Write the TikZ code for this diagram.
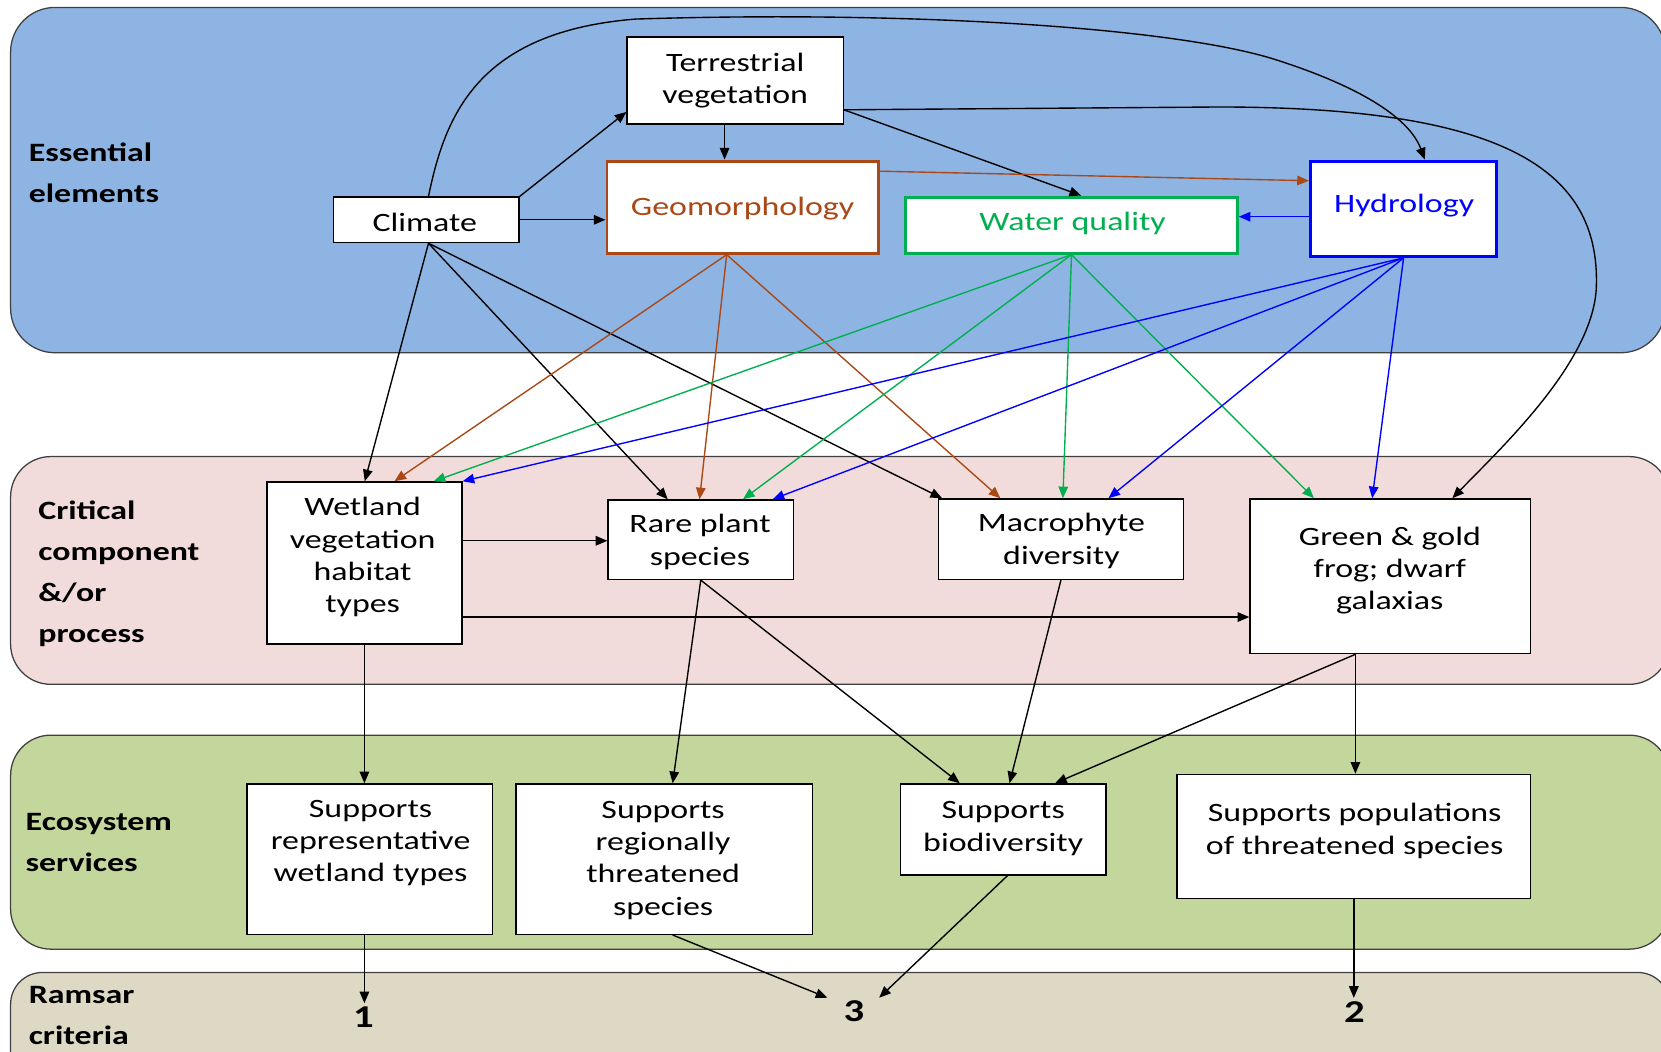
\documentclass[tikz,border=0pt]{standalone}
\usepackage{fontspec}
\setmainfont{Carlito}[FakeStretch=1.28]
\usetikzlibrary{arrows.meta}
\definecolor{bandblue}{RGB}{141,180,226}
\definecolor{bandpink}{RGB}{242,220,219}
\definecolor{bandgreen}{RGB}{195,214,155}
\definecolor{bandtan}{RGB}{221,217,196}
\definecolor{edgegray}{RGB}{64,64,64}
\definecolor{geobrown}{RGB}{170,72,22}
\definecolor{wqgreen}{RGB}{0,176,80}
\definecolor{hydblue}{RGB}{0,0,255}
\tikzset{
  band/.style={draw=edgegray, line width=1.2pt, rounded corners=42pt},
  box/.style={draw=black, fill=white, line width=1.3pt, inner sep=0pt},
  cbox/.style={fill=white, line width=2.8pt, inner sep=0pt},
  txt/.style={inner sep=0pt, align=center, font=\fontsize{25}{30.5}\selectfont},
  lab/.style={inner sep=0pt, align=left, anchor=west, font=\bfseries\fontsize{25}{38.7}\selectfont},
  num/.style={inner sep=3pt, font=\bfseries\fontsize{30}{30}\selectfont},
  arr/.style={line width=1.3pt, -{Triangle[length=11pt,width=9pt]}},
}
\begin{document}
\begin{tikzpicture}[x=1pt,y=-1pt]
\useasboundingbox (0,0) rectangle (1568,993);
\begin{scope}
  \clip (0,0) rectangle (1568,993);
  \fill[white] (0,0) rectangle (1568,993);
  \draw[band, fill=bandblue] (10,7) rectangle (1572,333);
  \draw[band, fill=bandpink, rounded corners=38pt] (10,431) rectangle (1576,646);
  \draw[band, fill=bandgreen, rounded corners=38pt] (10,694) rectangle (1576,896);
  \draw[band, fill=bandtan, rounded corners=30pt] (10,918) rectangle (1576,1060);
\end{scope}

% band labels
\node[lab] (l1) at (27,163) {Essential\\elements};
\node[lab] (l2) at (36,541.5) {Critical\\component\\\&/or\\process};
\node[lab] (l3) at (24,795) {Ecosystem\\services};
\node[lab] (l4) at (27,959) {Ramsar\\criteria};

% boxes
\node[box, minimum width=204pt, minimum height=82pt] (terr) at (694,76) {};
\node[box, minimum width=175pt, minimum height=43pt] (climate) at (402.5,207.5) {};
\node[cbox, draw=geobrown, minimum width=256pt, minimum height=87pt] (geo) at (701,195.5) {};
\node[cbox, draw=wqgreen, minimum width=313pt, minimum height=53pt] (wq) at (1011.5,212.5) {};
\node[cbox, draw=hydblue, minimum width=176pt, minimum height=90pt] (hyd) at (1325,197) {};
\node[box, minimum width=184pt, minimum height=153pt] (wet) at (344,531.5) {};
\node[box, minimum width=175pt, minimum height=75pt] (rare) at (661.5,509.5) {};
\node[box, minimum width=231pt, minimum height=76pt] (macro) at (1001.5,509) {};
\node[box, minimum width=265pt, minimum height=146pt] (frog) at (1312.5,544) {};
\node[box, minimum width=232pt, minimum height=142pt] (rep) at (349,811) {};
\node[box, minimum width=280pt, minimum height=142pt] (reg) at (627,811) {};
\node[box, minimum width=194pt, minimum height=86pt] (bio) at (947,783) {};
\node[box, minimum width=334pt, minimum height=117pt] (pop) at (1278,789.5) {};

% box texts
\node[txt] (terr-t) at (694,76) {Terrestrial\\vegetation};
\node[txt] (climate-t) at (401,209.6) {Climate};
\node[txt, text=geobrown] (geo-t) at (701,197) {Geomorphology};
\node[txt, text=wqgreen] (wq-t) at (1012.5,211) {Water quality};
\node[txt, text=hydblue] (hyd-t) at (1325.5,194) {Hydrology};
\node[txt] (wet-t) at (342.3,526) {Wetland\\vegetation\\habitat\\types};
\node[txt] (rare-t) at (660.8,511.5) {Rare plant\\species};
\node[txt] (macro-t) at (1002,510.5) {Macrophyte\\diversity};
\node[txt] (frog-t) at (1312,538.7) {Green \& gold\\frog; dwarf\\galaxias};
\node[txt] (rep-t) at (349.8,796) {Supports\\representative\\wetland types};
\node[txt] (reg-t) at (626,812) {Supports\\regionally\\threatened\\species};
\node[txt] (bio-t) at (947,782) {Supports\\biodiversity};
\node[txt] (pop-t) at (1278.8,784.4) {Supports populations\\of threatened species};

% Ramsar numbers
\node[num] (r1) at (343,960) {1};
\node[num] (r3) at (806,955) {3};
\node[num] (r2) at (1278.5,955) {2};

% black connectors (essential elements)
\coordinate (terrR) at ([yshift=14pt]terr.south east);
\coordinate (climS) at ([xshift=2pt]climate.south);
\draw[arr] (climate.north east) -- ([yshift=12pt]terr.south west);
\draw[arr] (climate.east) -- (climate.east -| geo.west);
\draw[arr] ([xshift=-10pt]terr.south) -- ([xshift=-10pt]terr.south |- geo.north);
\draw[arr] (terrR) -- ([xshift=167pt]wq.north west);
\draw[arr] ([xshift=2pt]climate.north) .. controls (420,110) and (450,30) .. (600,18)
  .. controls (850,10) and (1100,25) .. (1200,55)
  .. controls (1280,80) and (1330,110) .. ([xshift=20pt]hyd.north);
\draw[arr] (terrR) -- (1150,101) .. controls (1420,101) and (1510,160) .. (1507,270)
  .. controls (1505,340) and (1420,420) .. ([xshift=58.5pt]frog.north);
\draw[arr] (climS) -- ([xshift=93pt]wet.north west);
\draw[arr] (climS) -- ([xshift=57pt]rare.north west);
\draw[arr] (climS) -- ([xshift=4pt]macro.north west);

% brown connectors
\coordinate (geoS) at ([xshift=-15pt]geo.south);
\draw[arr, geobrown] ([yshift=-11pt]geo.north east) -- ([yshift=-20pt]hyd.north west);
\draw[arr, geobrown] (geoS) -- ([xshift=121pt]wet.north west);
\draw[arr, geobrown] (geoS) -- ([xshift=87pt]rare.north west);
\draw[arr, geobrown] (geoS) -- ([xshift=59pt]macro.north west);

% green connectors
\draw[arr, wqgreen] (wq.south) -- ([xshift=158pt]wet.north west);
\draw[arr, wqgreen] (wq.south) -- ([xshift=128pt]rare.north west);
\draw[arr, wqgreen] (wq.south) -- ([xshift=118pt]macro.north west);
\draw[arr, wqgreen] (wq.south) -- ([xshift=61pt]frog.north west);

% blue connectors
\coordinate (hydW) at ([yshift=-54pt]hyd.north west);
\draw[arr, hydblue] (hydW) -- (hydW -| wq.east);
\draw[arr, hydblue] (hyd.south) -- (wet.north east);
\draw[arr, hydblue] (hyd.south) -- ([xshift=156pt]rare.north west);
\draw[arr, hydblue] (hyd.south) -- ([xshift=161pt]macro.north west);
\draw[arr, hydblue] (hyd.south) -- ([xshift=116pt]frog.north west);

% lower connectors
\coordinate (frogS) at ([xshift=-33pt]frog.south);
\draw[arr] ([yshift=21pt]wet.east) -- ([yshift=21pt]wet.east -| rare.west);
\draw[arr] ([yshift=-51pt]wet.east) -- ([yshift=-51pt]wet.east -| frog.west);
\draw[arr] (wet.south) -- (wet.south |- rep.north);
\draw[arr] (rare.south) -- ([xshift=8pt]reg.north);
\draw[arr] (rare.south) -- ([xshift=-41pt]bio.north);
\draw[arr] (macro.south) -- ([xshift=6pt]bio.north);
\draw[arr] (frogS) -- ([xshift=49pt]bio.north);
\draw[arr] (frogS) -- (frogS |- pop.north);
\draw[arr] ([xshift=-5pt]rep.south) -- ([xshift=-5pt]rep.south |- r1.north);
\draw[arr] ([xshift=8pt]reg.south) -- ([xshift=-12pt]r3.north west);
\draw[arr] ([xshift=4pt]bio.south) -- ([xshift=11pt]r3.north east);
\draw[arr] (pop.south) -- (pop.south |- r2.north);
\end{tikzpicture}
\end{document}
